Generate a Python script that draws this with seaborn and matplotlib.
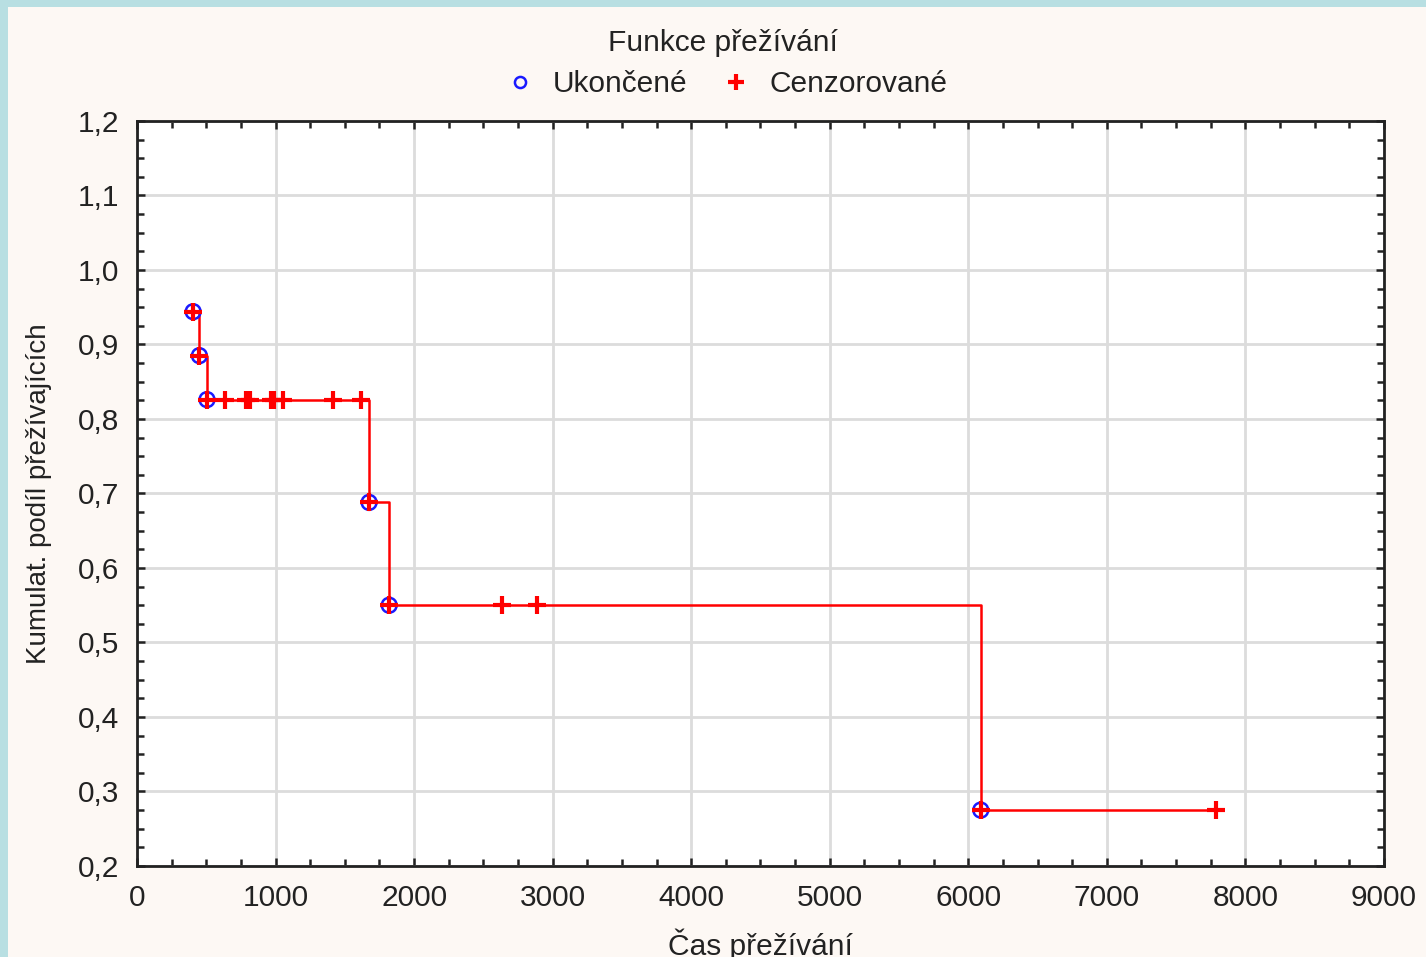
import matplotlib
matplotlib.use("Agg")
import matplotlib.pyplot as plt
from matplotlib.lines import Line2D
from matplotlib.patches import Rectangle
from matplotlib.ticker import MultipleLocator, FuncFormatter
import numpy as np
import pandas as pd
import seaborn as sns

# Kaplan-Meier survival estimate: completed (event) observations
event_times = [405, 450, 505, 1675, 1820, 6090]
event_surv = [0.944, 0.885, 0.826, 0.688, 0.550, 0.275]

# Censored observations
censor_times = [635, 785, 815, 965, 985, 1055, 1415, 1615, 2635, 2890, 7790]
censor_surv = [0.826, 0.826, 0.826, 0.826, 0.826, 0.826, 0.826, 0.826, 0.550, 0.550, 0.275]

title_text = "Funkce přežívání"
legend_labels = ["Ukončené", "Cenzorované"]
x_label = "Čas přežívání"
y_label = "Kumulat. podíl přežívajících"

sns.set_theme(style="whitegrid")
plt.rcParams["font.family"] = ["Liberation Sans", "DejaVu Sans"]

BG = "#fdf8f4"
BORDER = "#b8dfe2"
TXT = "#222222"
FS = 21.5

fig = plt.figure(figsize=(14.26, 9.57), dpi=100, facecolor=BG)
ax = fig.add_axes([0.0961, 0.0951, 0.9705 - 0.0961, 0.8736 - 0.0951])
ax.set_facecolor("white")

events = pd.DataFrame({"t": event_times, "s": event_surv, "kind": "event"})
censored = pd.DataFrame({"t": censor_times, "s": censor_surv, "kind": "censored"})
allpts = pd.concat([events, censored]).sort_values("t").reset_index(drop=True)

# step curve through all observations
sns.lineplot(data=allpts, x="t", y="s", estimator=None, sort=True,
             drawstyle="steps-post", color="#ff0000", lw=1.8, ax=ax, zorder=3)

# completed observations: open blue circles
sns.scatterplot(data=events, x="t", y="s", marker="o", s=115,
                facecolor="none", edgecolor="#1a1aff", linewidth=1.8,
                ax=ax, zorder=4)
# red plus on every observation
sns.scatterplot(data=allpts, x="t", y="s", marker="+", s=170,
                color="#ff0000", linewidth=3.0, ax=ax, zorder=5)

ax.set_xlim(0, 9000)
ax.set_ylim(0.2, 1.2)
ax.xaxis.set_major_locator(MultipleLocator(1000))
ax.xaxis.set_minor_locator(MultipleLocator(250))
ax.yaxis.set_major_locator(MultipleLocator(0.1))
ax.yaxis.set_minor_locator(MultipleLocator(0.025))
ax.yaxis.set_major_formatter(FuncFormatter(lambda v, p: f"{v:.1f}".replace(".", ",")))
ax.xaxis.set_major_formatter(FuncFormatter(lambda v, p: f"{int(round(v))}"))

ax.grid(True, which="major", color="#dcdcdc", lw=2.0)
ax.grid(False, which="minor")
for sp in ax.spines.values():
    sp.set_visible(True)
    sp.set_color("#222222")
    sp.set_linewidth(2.0)

ax.tick_params(which="both", direction="in", top=True, right=True,
               bottom=True, left=True, color="#222222", width=1.8)
ax.tick_params(which="major", length=6)
ax.tick_params(which="minor", length=5)
ax.tick_params(axis="x", which="major", labelsize=FS, pad=13, labelcolor=TXT)
ax.tick_params(axis="y", which="major", labelsize=FS, pad=13, labelcolor=TXT)

ax.set_xlabel(x_label, fontsize=FS, color=TXT, labelpad=12)
ax.set_ylabel(y_label, fontsize=20, color=TXT, labelpad=18)

fig.text(0.507, 0.9555, title_text, ha="center", va="center", fontsize=FS, color=TXT)

handles = [
    Line2D([], [], ls="none", marker="o", markersize=8, markerfacecolor="none",
           markeredgecolor="#1a1aff", markeredgewidth=1.8),
    Line2D([], [], ls="none", marker="+", markersize=11, color="#ff0000",
           markeredgewidth=3.0),
]
fig.legend(handles, legend_labels, loc="center", bbox_to_anchor=(0.509, 0.912),
           ncol=2, frameon=False, fontsize=FS, labelcolor=TXT,
           handletextpad=0.6, columnspacing=1.15, handlelength=1.0)

# window frame strips along top and left edges
fig.patches.append(Rectangle((0, 1 - 7 / 957), 1, 7 / 957, transform=fig.transFigure,
                             facecolor=BORDER, edgecolor="none", zorder=-1))
fig.patches.append(Rectangle((0, 0), 8 / 1426, 1, transform=fig.transFigure,
                             facecolor=BORDER, edgecolor="none", zorder=-1))

fig.savefig("out.png", dpi=100, facecolor=BG)
